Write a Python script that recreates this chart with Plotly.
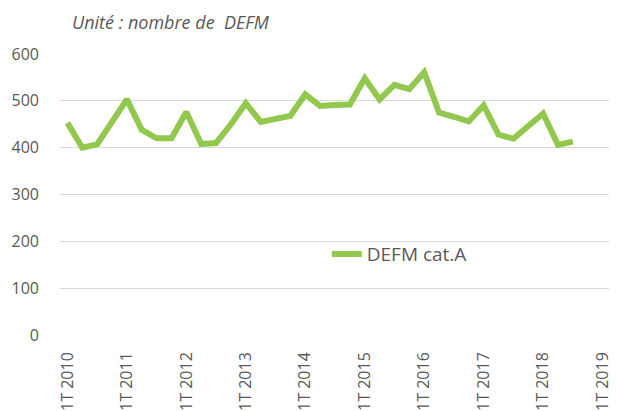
import plotly.graph_objects as go

years = list(range(2010, 2020))
quarters = [f"{q}T {y}" for y in years for q in (1, 2, 3, 4)][:37]  # 1T 2010 .. 1T 2019
tick_labels = [f"1T {y}" for y in years]

defm_cat_a = [453, 400, 407, 458, 503, 438, 420, 420, 476, 408, 410, 450,
              495, 455, 462, 468, 514, 489, 491, 492, 548, 503, 534, 525,
              561, 475, 466, 456, 490, 428, 419, 445, 473, 406, 413]

series_name = "DEFM cat.A"
title_text = "Unité : nombre de\u00a0 DEFM"

fig = go.Figure()
fig.add_trace(go.Scatter(
    x=quarters[:len(defm_cat_a)], y=defm_cat_a, mode="lines", name=series_name,
    line=dict(color="#92C84E", width=6), showlegend=True,
))

font_family = "Open Sans, Noto Sans, sans-serif"
gray = "#595959"

fig.update_layout(
    width=617, height=411,
    margin=dict(l=52, r=15, t=46, b=84),
    paper_bgcolor="white", plot_bgcolor="white",
    font=dict(family=font_family, color=gray, size=16),
    showlegend=True,
    legend=dict(x=0.485, y=0.288, xanchor="left", yanchor="middle",
                font=dict(size=19, color=gray), bgcolor="rgba(0,0,0,0)"),
    xaxis=dict(type="category", categoryorder="array", categoryarray=quarters,
               range=[-0.5, len(quarters) - 0.5],
               tickvals=tick_labels, ticktext=tick_labels, tickangle=-90,
               showgrid=False, showline=False, zeroline=False, ticks="",
               tickfont=dict(size=16, color=gray), automargin=False,
               ticklabelstandoff=13),
    yaxis=dict(range=[0, 600], dtick=100, showgrid=True, gridcolor="#D9D9D9",
               gridwidth=1, zeroline=False, showline=False, ticks="",
               tickfont=dict(size=16, color=gray), automargin=False,
               ticklabelstandoff=20),
    annotations=[dict(text=title_text, xref="paper", yref="paper",
                      x=0.018, y=1.0, yshift=32, xanchor="left", yanchor="middle",
                      showarrow=False,
                      font=dict(size=18, color=gray, family=font_family, style="italic"))],
)
fig.write_html("out.html")
